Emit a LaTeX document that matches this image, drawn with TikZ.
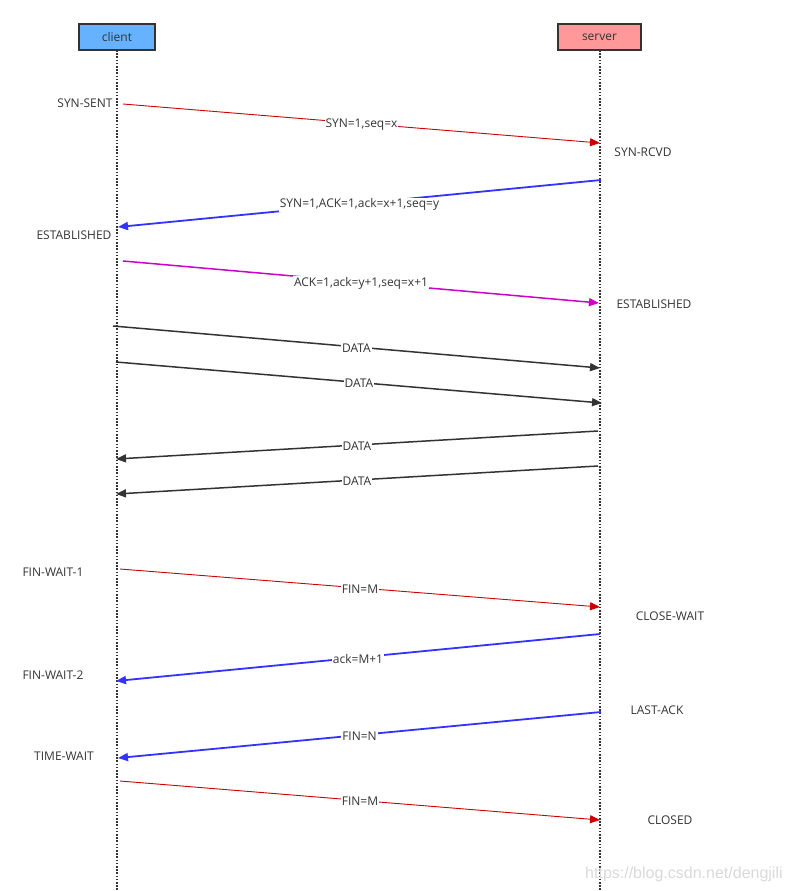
\documentclass[tikz,border=0pt]{standalone}
\usepackage{fontspec}
\setmainfont{Open Sans}
\newfontfamily\wmfont{Liberation Sans}
\usetikzlibrary{arrows.meta}
\definecolor{txt}{HTML}{333333}
\definecolor{cfill}{HTML}{66B2FF}
\definecolor{sfill}{HTML}{FF9999}
\definecolor{myred}{HTML}{CC0000}
\definecolor{myblue}{HTML}{3333FF}
\definecolor{mymag}{HTML}{CC00CC}
\definecolor{mydark}{HTML}{333333}
\begin{document}
\begin{tikzpicture}[x=1pt,y=-1pt,
  every node/.style={font=\fontsize{12}{14}\selectfont, text=txt},
  actor/.style={draw=txt, line width=1.5pt, minimum height=26pt, inner sep=0pt},
  life/.style={draw=txt, line width=1.3pt, dash pattern=on 1.6pt off 1.6pt},
  msg/.style={-{Triangle[length=10pt,width=8pt]}},
  redmsg/.style={msg, draw=myred, line width=0.9pt},
  bluemsg/.style={msg, draw=myblue, line width=1.8pt},
  magmsg/.style={msg, draw=mymag, line width=1.5pt},
  darkmsg/.style={msg, draw=mydark, line width=1.5pt},
  lbl/.style={fill=white, inner sep=1pt, yshift=-1pt},
  state/.style={inner sep=0pt}]
\useasboundingbox (0,0) rectangle (790,891);
% lifelines
\coordinate (ctop) at (117,50);
\coordinate (cbot) at (117,891);
\coordinate (stop) at (600,50);
\coordinate (sbot) at (600,891);
\draw[life] (ctop) -- (cbot);
\draw[life] (stop) -- (sbot);
\node[actor, fill=cfill, minimum width=76pt] (client) at (117,37) {client};
\node[actor, fill=sfill, minimum width=83pt] (server) at (599.5,37) {server};
% coordinates of message ends
\coordinate (a1) at (123,104); \coordinate (b1) at (600,143);
\coordinate (a2) at (601,180); \coordinate (b2) at (118,227);
\coordinate (a3) at (123,261); \coordinate (b3) at (599,303);
\coordinate (a4) at (113,326); \coordinate (b4) at (600,368);
\coordinate (a5) at (116,362); \coordinate (b5) at (602,403);
\coordinate (a6) at (598,431); \coordinate (b6) at (116,459);
\coordinate (a7) at (598,466); \coordinate (b7) at (116,494);
\coordinate (a8) at (120,569); \coordinate (b8) at (600,607);
\coordinate (a9) at (600,634); \coordinate (b9) at (116,681);
\coordinate (a10) at (601,712); \coordinate (b10) at (118,758);
\coordinate (a11) at (120,781); \coordinate (b11) at (600,820);
% messages
\draw[redmsg] (a1) -- node[lbl, pos=0.5] (l1) {SYN=1,seq=x} (b1);
\draw[bluemsg] (a2) -- node[lbl, pos=0.5] (l2) {SYN=1,ACK=1,ack=x+1,seq=y} (b2);
\draw[magmsg] (a3) -- node[lbl, pos=0.5] (l3) {ACK=1,ack=y+1,seq=x+1} (b3);
\draw[darkmsg] (a4) -- node[lbl, pos=0.5] (l4) {DATA} (b4);
\draw[darkmsg] (a5) -- node[lbl, pos=0.5] (l5) {DATA} (b5);
\draw[darkmsg] (a6) -- node[lbl, pos=0.5] (l6) {DATA} (b6);
\draw[darkmsg] (a7) -- node[lbl, pos=0.5] (l7) {DATA} (b7);
\draw[redmsg] (a8) -- node[lbl, pos=0.5] (l8) {FIN=M} (b8);
\draw[bluemsg] (a9) -- node[lbl, pos=0.5] (l9) {ack=M+1} (b9);
\draw[bluemsg] (a10) -- node[lbl, pos=0.5] (l10) {FIN=N} (b10);
\draw[redmsg] (a11) -- node[lbl, pos=0.5] (l11) {FIN=M} (b11);
% states
\node[state] (s1) at (85,103) {SYN-SENT};
\node[state] (s2) at (643,152) {SYN-RCVD};
\node[state] (s3) at (74,235) {ESTABLISHED};
\node[state] (s4) at (654,304) {ESTABLISHED};
\node[state] (s5) at (53,572) {FIN-WAIT-1};
\node[state] (s6) at (670,616) {CLOSE-WAIT};
\node[state] (s7) at (53,675) {FIN-WAIT-2};
\node[state] (s8) at (657,710) {LAST-ACK};
\node[state] (s9) at (64,756) {TIME-WAIT};
\node[state] (s10) at (670,820) {CLOSED};
% watermark
\node[state, text=black!15, font=\fontsize{16}{18}\selectfont\wmfont, anchor=west] (wm) at (585,874) {https://blog.csdn.net/dengjili};
\end{tikzpicture}
\end{document}
